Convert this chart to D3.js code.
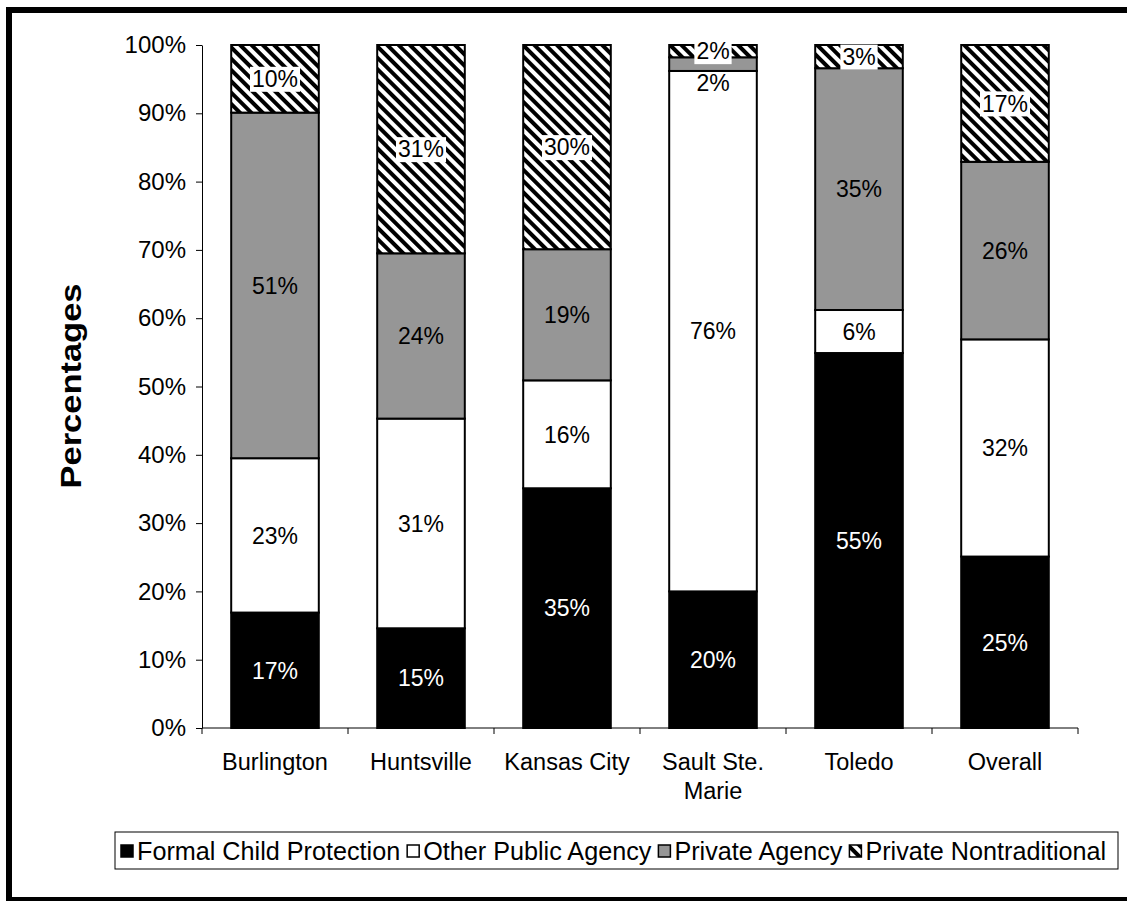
<!DOCTYPE html>
<html>
<head>
<meta charset="utf-8">
<script src="https://cdn.jsdelivr.net/npm/d3@7"></script>
<style>
  html, body { margin: 0; padding: 0; background: #fff; }
  svg { display: block; font-family: "Liberation Sans", Arial, sans-serif; }
</style>
</head>
<body>
<svg id="chart" width="1127" height="901"></svg>
<script>
const categories = ["Burlington", "Huntsville", "Kansas City", "Sault Ste. Marie", "Toledo", "Overall"];
const seriesNames = ["Formal Child Protection", "Other Public Agency", "Private Agency", "Private Nontraditional"];
const formalChildProtection = [16.9, 14.6, 35.1, 20.0, 54.9, 25.1];
const otherPublicAgency     = [22.6, 30.7, 15.8, 76.2, 6.3, 31.8];
const privateAgency         = [50.6, 24.2, 19.2, 2.0, 35.4, 26.0];
const privateNontraditional = [9.9, 30.5, 29.9, 1.8, 3.4, 17.1];
const yTicks = [0, 10, 20, 30, 40, 50, 60, 70, 80, 90, 100];

const seriesValues = [formalChildProtection, otherPublicAgency, privateAgency, privateNontraditional];
const fills = ["#000000", "#ffffff", "#969696", "url(#hatch)"];
const labelColors = ["#ffffff", "#000000", "#000000", "#000000"];

const svg = d3.select("#chart");
const FF = "Liberation Sans, Arial, sans-serif";

// pattern
const defs = svg.append("defs");
const pat = defs.append("pattern").attr("id", "hatch").attr("patternUnits", "userSpaceOnUse")
  .attr("width", 8).attr("height", 8).attr("patternTransform", "rotate(-45)");
pat.append("rect").attr("width", 8).attr("height", 8).attr("fill", "#fff");
pat.append("rect").attr("width", 4).attr("height", 8).attr("fill", "#000");

// outer border
svg.append("rect").attr("x", 9).attr("y", 10).attr("width", 1200).attr("height", 890)
  .attr("fill", "none").attr("stroke", "#000").attr("stroke-width", 6);

const x = d3.scaleBand().domain(categories).range([202, 1078]).paddingInner(0.4).paddingOuter(0.2);
const y = d3.scaleLinear().domain([0, 100]).range([728, 45]);

// stacked data
const rows = categories.map((c, i) => {
  const r = { category: c };
  seriesNames.forEach((s, k) => r[s] = seriesValues[k][i]);
  return r;
});
const stack = d3.stack().keys(seriesNames)(rows);

// y axis
const yAxis = svg.append("g").attr("transform", "translate(202,0)")
  .call(d3.axisLeft(y).tickValues(yTicks).tickFormat(d => d + "%").tickSize(6).tickSizeOuter(0).tickPadding(10));
yAxis.selectAll("text").attr("font-size", 24).attr("fill", "#000").attr("font-family", FF);
yAxis.selectAll("line").attr("stroke", "#000");
yAxis.select(".domain").attr("stroke", "#000");

// bars
const gBars = svg.append("g");
stack.forEach((layer, k) => {
  gBars.selectAll(null).data(layer).join("rect")
    .attr("x", d => x(d.data.category))
    .attr("width", x.bandwidth())
    .attr("y", d => y(d[1]))
    .attr("height", d => y(d[0]) - y(d[1]))
    .attr("fill", fills[k])
    .attr("stroke", "#000").attr("stroke-width", 2);
});

// x axis
const gx = svg.append("g").attr("transform", "translate(0,728)");
gx.append("line").attr("x1", x.range()[0]).attr("x2", x.range()[1]).attr("stroke", "#000");
d3.range(categories.length + 1).forEach(i => {
  const bx = x.range()[0] + i * x.step();
  gx.append("line").attr("x1", bx).attr("x2", bx).attr("y1", 0).attr("y2", 6).attr("stroke", "#000");
});
const xAxisLabels = svg.append("g").attr("transform", "translate(0,728)")
  .call(d3.axisBottom(x).tickSize(0).tickPadding(0));
xAxisLabels.select(".domain").remove();
xAxisLabels.selectAll("text").attr("font-size", 23.5).attr("fill", "#000").attr("y", 42).attr("dy", 0)
  .attr("font-family", FF)
  .each(function(d) {
    const t = d3.select(this);
    const words = d.split(" ");
    t.text(null);
    let line = [], lineNo = 0;
    let tspan = t.append("tspan").attr("x", 0).attr("y", 42);
    words.forEach(w => {
      line.push(w);
      tspan.text(line.join(" "));
      if (tspan.node().getComputedTextLength() > 135 && line.length > 1) {
        line.pop();
        tspan.text(line.join(" "));
        line = [w];
        lineNo++;
        tspan = t.append("tspan").attr("x", 0).attr("y", 42 + lineNo * 29).text(w);
      }
    });
  });

// data labels
const gLab = svg.append("g");
categories.forEach((c, i) => {
  const labs = stack.map((layer, k) => ({ k, v: seriesValues[k][i], cy: (y(layer[i][0]) + y(layer[i][1])) / 2 }));
  labs.reverse();
  for (let j = 1; j < labs.length; j++) {
    if (labs[j].cy - labs[j - 1].cy < 32) labs[j].cy = labs[j - 1].cy + 32;
  }
  labs.forEach(l => {
    const cx = x(c) + x.bandwidth() / 2;
    const g = gLab.append("g");
    const t = g.append("text").attr("x", cx).attr("y", l.cy).attr("dy", "0.36em")
      .attr("text-anchor", "middle").attr("font-size", 23).attr("fill", labelColors[l.k])
      .text(Math.round(l.v) + "%");
    if (l.k === 3) {
      const bb = t.node().getBBox();
      g.insert("rect", "text").attr("x", bb.x - 2).attr("y", l.cy - 12).attr("width", bb.width + 4).attr("height", 25).attr("fill", "#fff");
    }
  });
});

// y title
svg.append("text").attr("transform", "translate(81,386) rotate(-90)")
  .attr("text-anchor", "middle").attr("font-size", 29).attr("font-weight", "bold")
  .attr("textLength", 205).attr("lengthAdjust", "spacingAndGlyphs").text("Percentages");

// legend
const lg = svg.append("g");
lg.append("rect").attr("x", 115).attr("y", 832).attr("width", 1003).attr("height", 37)
  .attr("fill", "#fff").attr("stroke", "#000").attr("stroke-width", 1);
let lx = 121;
seriesNames.forEach((s, k) => {
  lg.append("rect").attr("x", lx).attr("y", 845).attr("width", 12).attr("height", 12)
    .attr("fill", fills[k]).attr("stroke", "#000").attr("stroke-width", 1.5);
  const t = lg.append("text").attr("x", lx + 16).attr("y", 860).attr("font-size", 25.2).text(s);
  lx += 16 + t.node().getComputedTextLength() + 7;
});
</script>
</body>
</html>
